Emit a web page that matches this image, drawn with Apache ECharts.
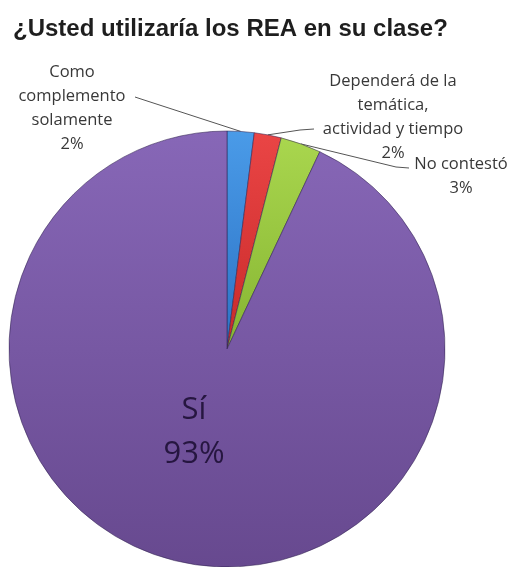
<!DOCTYPE html>
<html>
<head>
<meta charset="utf-8">
<script src="https://cdn.jsdelivr.net/npm/echarts@6/dist/echarts.min.js"></script>
<style>
  html, body { margin: 0; padding: 0; background: #fff; }
  #chart { width: 514px; height: 567px; }
</style>
</head>
<body>
<div id="chart"></div>
<script>
// Survey answers (percent of respondents)
const categories = [
  'Como\ncomplemento\nsolamente',
  'Dependerá de la\ntemática,\nactividad y tiempo',
  'No contestó',
  'Sí'
];
const values = [2, 2, 3, 93];
const titleText = '¿Usted utilizaría los REA en su clase?';

// Slice fills: top colour, bottom colour
const sliceColors = [
  ['#4a9be8', '#2c72c4'],
  ['#ea4545', '#c82a2a'],
  ['#a9d64e', '#86b532'],
  ['#8767b7', '#67498f']
];

// Where each label block sits and where its leader line ends
const labelPlacement = [
  { x: 72,  y: 108, line: [[141, 99], [135, 97]] },
  { x: 393, y: 117, line: [[300, 130], [314, 129]] },
  { x: 461, y: 176, line: [[396, 167], [409, 168]] },
  { x: 194, y: 432, line: null }
];

const chart = echarts.init(document.getElementById('chart'), null, { renderer: 'canvas' });

const smallLabel = {
  fontFamily: 'Open Sans',
  fontSize: 16.5,
  lineHeight: 24,
  color: '#383838',
  align: 'center'
};

const data = categories.map((name, i) => {
  const item = {
    name: name,
    value: values[i],
    itemStyle: {
      color: {
        type: 'linear', x: 0, y: 0, x2: 0, y2: 1,
        colorStops: [
          { offset: 0, color: sliceColors[i][0] },
          { offset: 1, color: sliceColors[i][1] }
        ]
      }
    }
  };
  if (i === categories.length - 1) {
    item.label = {
      position: 'inside',
      fontFamily: 'Open Sans',
      fontSize: 31,
      lineHeight: 44,
      color: '#261640',
      align: 'center'
    };
    item.labelLine = { show: false };
  }
  return item;
});

chart.setOption({
  animation: false,
  title: {
    text: titleText,
    left: 8,
    top: 12,
    textStyle: {
      fontFamily: 'Liberation Sans',
      fontWeight: 'bold',
      fontSize: 24,
      color: '#1e1e1e'
    }
  },
  series: [{
    type: 'pie',
    center: [227, 349],
    radius: 218,
    startAngle: 90,
    clockwise: true,
    avoidLabelOverlap: false,
    itemStyle: {
      borderColor: 'rgba(50,35,80,0.55)',
      borderWidth: 1
    },
    label: Object.assign({
      show: true,
      position: 'outside',
      formatter: '{b}\n{c}%'
    }, smallLabel),
    labelLine: {
      show: true,
      lineStyle: { color: '#555', width: 1 }
    },
    labelLayout: function (params) {
      const p = labelPlacement[params.dataIndex];
      const out = { x: p.x, y: p.y, align: 'center', verticalAlign: 'middle', hideOverlap: false };
      if (p.line && params.labelLinePoints) {
        const start = params.labelLinePoints[0];
        out.labelLinePoints = [start, p.line[0], p.line[1]];
      }
      return out;
    },
    data: data
  }]
});
</script>
</body>
</html>
